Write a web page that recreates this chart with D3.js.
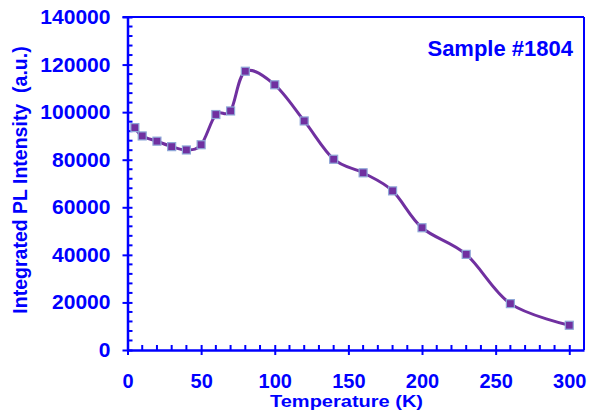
<!DOCTYPE html>
<html>
<head>
<meta charset="utf-8">
<script src="https://cdn.jsdelivr.net/npm/d3@7"></script>
<style>
  html, body { margin: 0; padding: 0; background: #fff; }
  svg text { font-family: "Liberation Sans", Arial, sans-serif; font-weight: bold; fill: #0000FF; }
</style>
</head>
<body>
<svg id="chart" width="590" height="411"></svg>
<script>
// Temperature-dependent integrated PL intensity, sample #1804
const temperatures = [5, 10, 20, 30, 40, 50, 60, 70, 80, 100, 120, 140, 160, 180, 200, 230, 260, 300];
const intensities  = [93500, 90000, 87800, 85500, 84100, 86300, 99000, 100500, 117200, 111500, 96300, 80200, 74500, 66900, 51400, 40200, 19500, 10400];
const xTicks = [0, 50, 100, 150, 200, 250, 300];
const yTicks = [0, 20000, 40000, 60000, 80000, 100000, 120000, 140000];

const blue = "#0000FF";
const lineColor = "#7030A0";

const svg = d3.select("#chart");
const plotL = 127.5, plotR = 584, plotT = 17, plotB = 350;

const x = d3.scaleLinear().domain([0, 310]).range([plotL, plotR]);
const y = d3.scaleLinear().domain([0, 140000]).range([plotB, plotT]);

// frame: top and right borders
svg.append("line").attr("x1", plotL - 5).attr("x2", plotR).attr("y1", plotT).attr("y2", plotT)
  .attr("stroke", blue).attr("stroke-width", 2);
svg.append("line").attr("x1", plotR).attr("x2", plotR).attr("y1", plotT).attr("y2", plotB)
  .attr("stroke", blue).attr("stroke-width", 2);

// minor ticks (inside the plot)
const xMinor = d3.range(0, 311, 10).filter(v => v % 50 !== 0);
svg.append("g").selectAll("line").data(xMinor).join("line")
  .attr("x1", d => x(d)).attr("x2", d => x(d))
  .attr("y1", plotB).attr("y2", plotB - 5)
  .attr("stroke", blue).attr("stroke-width", 2);
const yMinor = d3.range(0, 140001, 4000).filter(v => v % 20000 !== 0);
svg.append("g").selectAll("line").data(yMinor).join("line")
  .attr("x1", plotL).attr("x2", plotL + 5)
  .attr("y1", d => y(d)).attr("y2", d => y(d))
  .attr("stroke", blue).attr("stroke-width", 2);

// x axis
const gx = svg.append("g").attr("transform", `translate(0,${plotB})`)
  .call(d3.axisBottom(x).tickValues(xTicks).tickFormat(d3.format("d"))
    .tickSize(5).tickPadding(19).tickSizeOuter(0));
gx.select(".domain").attr("stroke", blue).attr("stroke-width", 2.5);
gx.selectAll(".tick line").attr("stroke", blue).attr("stroke-width", 2).attr("y1", -5);
gx.selectAll(".tick text").attr("font-size", 20).attr("fill", blue)
  .attr("font-family", "Liberation Sans, Arial, sans-serif").attr("font-weight", "bold");

// y axis
const gy = svg.append("g").attr("transform", `translate(${plotL},0)`)
  .call(d3.axisLeft(y).tickValues(yTicks).tickFormat(d3.format("d"))
    .tickSize(5).tickPadding(12).tickSizeOuter(0));
gy.select(".domain").attr("stroke", blue).attr("stroke-width", 2.5);
gy.selectAll(".tick line").attr("stroke", blue).attr("stroke-width", 2).attr("x1", 5);
gy.selectAll(".tick text").attr("font-size", 20.5).attr("fill", blue)
  .attr("font-family", "Liberation Sans, Arial, sans-serif").attr("font-weight", "bold")
  .attr("lengthAdjust", "spacingAndGlyphs")
  .attr("textLength", d => String(d).length * 11.7);

// smoothed curve
const pts = temperatures.map((t, i) => [t, intensities[i]]);
const line = d3.line().x(d => x(d[0])).y(d => y(d[1])).curve(d3.curveCardinal.tension(0));
svg.append("path").datum(pts).attr("d", line)
  .attr("fill", "none").attr("stroke", lineColor).attr("stroke-width", 3);

// square markers
const ms = 8;
svg.append("g").selectAll("rect").data(pts).join("rect")
  .attr("x", d => x(d[0]) - ms / 2).attr("y", d => y(d[1]) - ms / 2)
  .attr("width", ms).attr("height", ms)
  .attr("fill", lineColor).attr("stroke", "#8FA8D8").attr("stroke-width", 1.2);

// axis titles
svg.append("text").attr("x", 346.5).attr("y", 407)
  .attr("text-anchor", "middle").attr("font-size", 17)
  .attr("lengthAdjust", "spacingAndGlyphs").attr("textLength", 153)
  .text("Temperature (K)");
svg.append("text").attr("transform", "translate(27,180) rotate(-90)")
  .attr("text-anchor", "middle").attr("font-size", 19.5).attr("xml:space", "preserve")
  .text("Integrated PL Intensity  (a.u.)");

// sample label
svg.append("text").attr("x", 573).attr("y", 56).attr("text-anchor", "end")
  .attr("font-size", 22).text("Sample #1804");
</script>
</body>
</html>
